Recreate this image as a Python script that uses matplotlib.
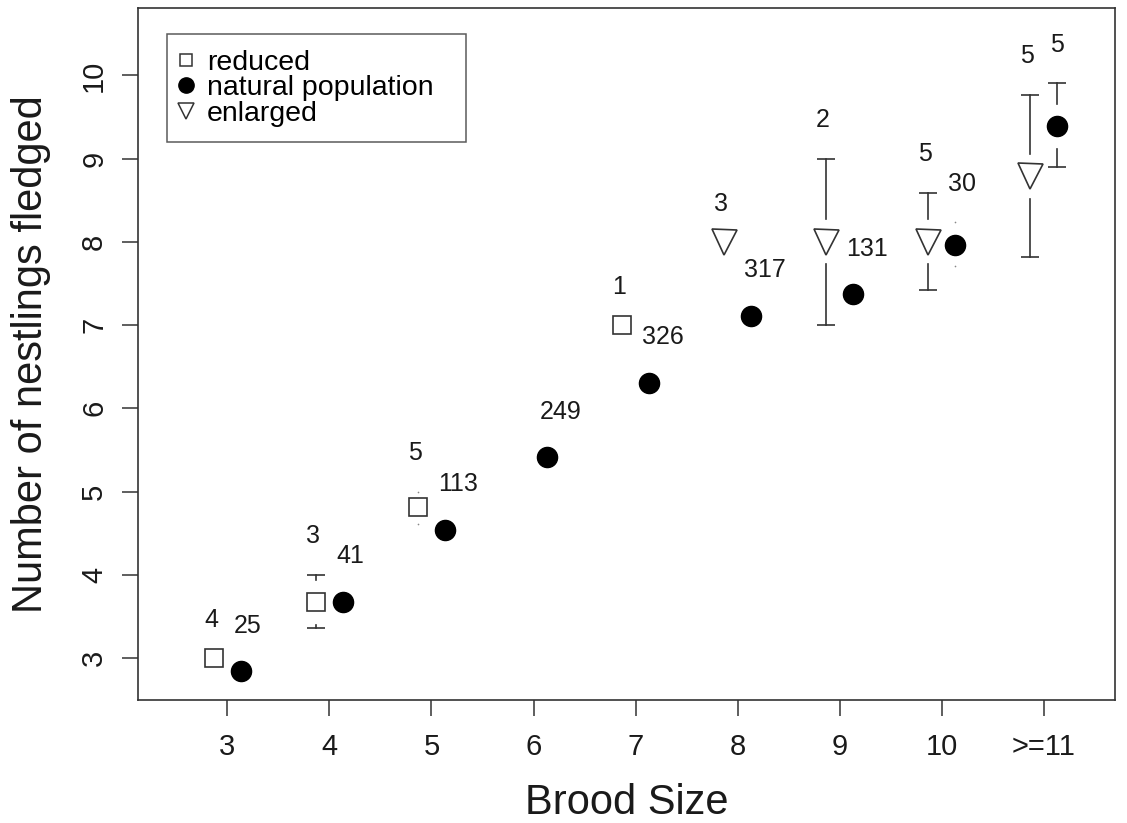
import numpy as np
import matplotlib.pyplot as plt
from matplotlib.lines import Line2D

plt.rcParams['font.family'] = ['Liberation Sans', 'DejaVu Sans']

# x categories
brood_sizes = [3, 4, 5, 6, 7, 8, 9, 10, 11]
brood_labels = ['3', '4', '5', '6', '7', '8', '9', '10', '>=11']

# reduced broods
red_x = [3, 4, 5, 7]
red_mean = [3.0, 3.67, 4.82, 7.0]
red_lo = [np.nan, 3.36, 4.61, np.nan]
red_hi = [np.nan, 4.0, 5.0, np.nan]
red_n = [4, 3, 5, 1]

# natural population
nat_x = [3, 4, 5, 6, 7, 8, 9, 10, 11]
nat_mean = [2.84, 3.67, 4.54, 5.41, 6.31, 7.11, 7.37, 7.96, 9.39]
nat_lo = [np.nan] * 7 + [7.71, 8.90]
nat_hi = [np.nan] * 7 + [8.24, 9.91]
nat_n = [25, 41, 113, 249, 326, 317, 131, 30, 5]

# enlarged broods
enl_x = [8, 9, 10, 11]
enl_mean = [8.0, 8.0, 8.0, 8.79]
enl_lo = [np.nan, 7.0, 7.42, 7.82]
enl_hi = [np.nan, 9.0, 8.59, 9.77]
enl_n = [3, 2, 5, 5]

INK = '#333333'
GAP = 0.27
SHIFT = 0.13


def draw_errors(ax, x, y, lo, hi):
    """Error bars drawn from the marker edge outwards, R arrows style."""
    for xi, yi, l, h in zip(x, y, lo, hi):
        if np.isnan(h):
            continue
        for end, sign in ((h, 1), (l, -1)):
            start = yi + sign * GAP
            if (end - start) * sign > 0.02:
                ax.plot([xi, xi], [start, end], color=INK, lw=1.2)
                ax.plot([xi], [end], marker='_', ms=13, mew=1.2, color=INK)
            else:
                ax.plot([xi], [end], marker='o', ms=1.2, mew=0, color='#888888')


def draw_counts(ax, x, y, hi, n, pad, dx):
    for xi, yi, h, ni in zip(x, y, hi, n):
        ty = yi + pad if np.isnan(h) else max(yi + pad, h + 0.46)
        ax.text(xi + dx, ty, str(ni), ha='left', va='center',
                fontsize=18, color='#1a1a1a')


fig = plt.figure(figsize=(11.27, 8.23), dpi=100)
ax = fig.add_axes([138 / 1127, 1 - 700 / 823, 977 / 1127, 692 / 823])

rx = np.array(red_x) - SHIFT
nx = np.array(nat_x) + SHIFT
ex = np.array(enl_x) - SHIFT

draw_errors(ax, rx, red_mean, red_lo, red_hi)
draw_errors(ax, nx, nat_mean, nat_lo, nat_hi)
draw_errors(ax, ex, enl_mean, enl_lo, enl_hi)

ax.plot(rx, red_mean, 's', ms=12.5, mfc='white', mec=INK, mew=1.2, zorder=3)
ax.plot(nx, nat_mean, 'o', ms=14.5, color='black', zorder=3)
ax.plot(ex, enl_mean, 'v', ms=18, mfc='white', mec=INK, mew=1.2, zorder=3)

draw_counts(ax, rx, red_mean, red_hi, red_n, 0.46, -0.10)
draw_counts(ax, nx, nat_mean, nat_hi, nat_n, 0.55, -0.065)
draw_counts(ax, ex, enl_mean, enl_hi, enl_n, 0.46, -0.10)

ax.set_xlim(2.123, 11.70)
ax.set_ylim(2.495, 10.81)
ax.set_xticks(brood_sizes)
ax.set_xticklabels(brood_labels)
ax.set_yticks(range(3, 11))
ax.tick_params(axis='both', length=11.5, width=1.1, color=INK,
               labelsize=21, labelcolor='#1a1a1a')
ax.tick_params(axis='x', pad=12)
ax.tick_params(axis='y', pad=10)
for lab in ax.get_yticklabels():
    lab.set_rotation(90)
    lab.set_va('center')
for sp in ax.spines.values():
    sp.set_color(INK)
    sp.set_linewidth(1.2)

ax.set_xlabel('Brood Size', fontsize=30, color='#1a1a1a', labelpad=16)
ax.set_ylabel('Number of nestlings fledged', fontsize=30, color='#1a1a1a',
              labelpad=21)

handles = [
    Line2D([], [], ls='none', marker='s', ms=9, mfc='white', mec=INK, mew=1.1),
    Line2D([], [], ls='none', marker='o', ms=11, color='black'),
    Line2D([], [], ls='none', marker='v', ms=12, mfc='white', mec=INK, mew=1.1),
]
leg = ax.legend(handles, ['reduced', 'natural population', 'enlarged'],
                loc='upper left', bbox_to_anchor=(0.0294, 0.0, 0.3063, 0.9624),
                mode='expand', borderaxespad=0, fontsize=20.5, frameon=True,
                fancybox=False, edgecolor=INK, borderpad=0.55,
                handlelength=0.25, handletextpad=0.62, labelspacing=-0.02)
leg.get_frame().set_linewidth(1.1)

fig.savefig('out.png', dpi=100)
